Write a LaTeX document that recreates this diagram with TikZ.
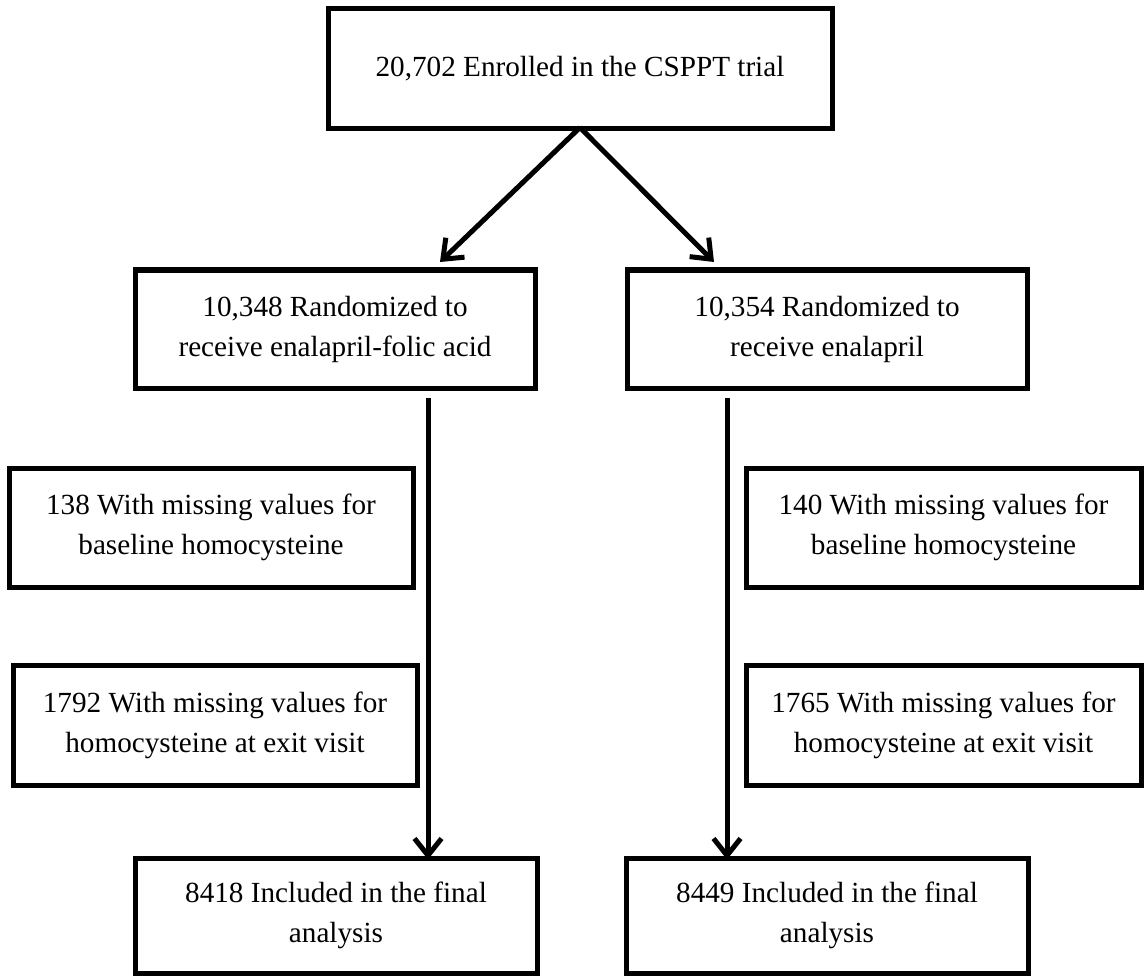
\documentclass[tikz,border=0pt]{standalone}
\usepackage{fontspec}
\setmainfont{Liberation Serif}
\usetikzlibrary{arrows.meta}
\begin{document}
\begin{tikzpicture}[x=1pt,y=-1pt,
  box/.style={draw, line width=5pt, align=center, inner sep=0pt,
    font=\fontsize{29.2}{40}\selectfont},
  arr/.style={line width=5pt, -{Straight Barb[length=17pt,width=27pt]}}]
\useasboundingbox (0,0) rectangle (1145,976);
\node[box, minimum width=504pt, minimum height=120pt] (top) at (580,69) {20,702 Enrolled in the CSPPT trial};
\node[box, minimum width=400pt, minimum height=118pt] (midL) at (335,329) {\raisebox{-4pt}{\parbox{380pt}{\centering 10,348 Randomized to\\receive enalapril-folic acid}}};
\node[box, minimum width=400pt, minimum height=118pt] (midR) at (827,329) {\raisebox{-4pt}{\parbox{380pt}{\centering 10,354 Randomized to\\receive enalapril}}};
\node[box, minimum width=404pt, minimum height=119pt] (L2) at (211,527.5) {138 With missing values for\\baseline homocysteine};
\node[box, minimum width=404pt, minimum height=120pt] (L3) at (215,725) {1792 With missing values for\\homocysteine at exit visit};
\node[box, minimum width=395pt, minimum height=119pt] (R2) at (943.5,527.5) {140 With missing values for\\baseline homocysteine};
\node[box, minimum width=395pt, minimum height=120pt] (R3) at (943.5,725) {1765 With missing values for\\homocysteine at exit visit};
\node[box, minimum width=402pt, minimum height=115pt] (BL) at (336,915.5) {8418 Included in the final\\analysis};
\node[box, minimum width=402pt, minimum height=115pt] (BR) at (827,915.5) {8449 Included in the final\\analysis};
\coordinate (tipL) at (440,262);
\coordinate (tipR) at (714,262);
\coordinate (lineL) at (428,398);
\coordinate (lineR) at (727,398);
\draw[arr] ([yshift=4pt]top.south) -- (tipL);
\draw[arr] ([yshift=4pt]top.south) -- (tipR);
\draw[arr] (lineL) -- ([yshift=-4pt]lineL |- BL.north);
\draw[arr] (lineR) -- ([yshift=-4pt]lineR |- BR.north);
\end{tikzpicture}
\end{document}
